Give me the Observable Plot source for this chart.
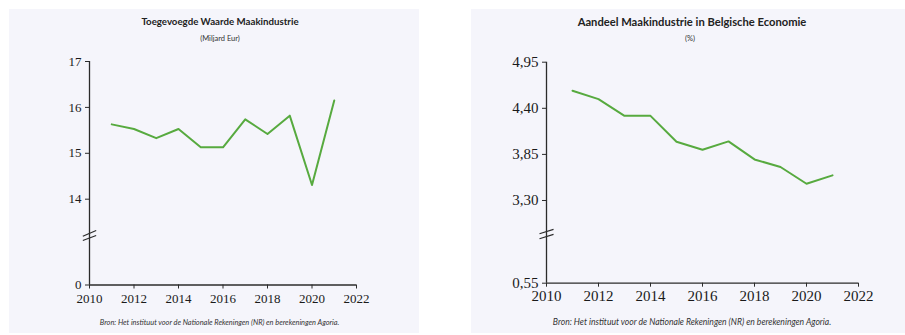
<!DOCTYPE html>
<html><head><meta charset="utf-8">
<script src="https://cdn.jsdelivr.net/npm/d3@7"></script>
<script src="https://cdn.jsdelivr.net/npm/@observablehq/plot@0.6"></script>
<style>
body{margin:0;background:#fff;width:905px;height:335px;position:relative;overflow:hidden;}
.panel{position:absolute;background:#f5f5fb;overflow:hidden;}
.panel svg{position:absolute;left:0;top:0;font-family:'Liberation Serif',serif;}
.panel svg text{font-family:'Liberation Serif',serif;}
.title{position:absolute;left:0;right:0;text-align:center;font-family:Lato,sans-serif;font-weight:bold;color:#222;white-space:nowrap;}
.sub{position:absolute;left:0;right:0;text-align:center;font-family:Lato,sans-serif;color:#333;white-space:nowrap;}
.cap{position:absolute;left:0;right:0;text-align:center;font-family:Lato,sans-serif;font-style:italic;color:#333;white-space:nowrap;}
</style>
</head><body>
<div class="panel" id="p1" style="left:9px;top:9px;width:410px;height:324px;">
  <div class="title" style="top:6px;font-size:9.7px;padding-left:12px;">Toegevoegde Waarde Maakindustrie</div>
  <div class="sub" style="top:25px;font-size:7.5px;padding-left:12px;">(Miljard Eur)</div>
  <div class="cap" style="top:309px;font-size:7.4px;padding-left:11px;">Bron: Het instituut voor de Nationale Rekeningen (NR) en berekeningen Agoria.</div>
</div>
<div class="panel" id="p2" style="left:471px;top:9px;width:434px;height:324px;">
  <div class="title" style="top:6px;font-size:11.2px;padding-left:8px;">Aandeel Maakindustrie in Belgische Economie</div>
  <div class="sub" style="top:25px;font-size:7.5px;padding-left:4px;">(%)</div>
  <div class="cap" style="top:308px;font-size:8.6px;padding-left:8px;">Bron: Het instituut voor de Nationale Rekeningen (NR) en berekeningen Agoria.</div>
</div>
<script>
const years = [2011, 2012, 2013, 2014, 2015, 2016, 2017, 2018, 2019, 2020, 2021];
const waarde = [15.63, 15.53, 15.33, 15.53, 15.13, 15.13, 15.74, 15.42, 15.82, 14.31, 16.15];
const aandeel = [4.61, 4.51, 4.31, 4.31, 4.00, 3.905, 4.005, 3.79, 3.70, 3.50, 3.60];
const xTicks = [2010, 2012, 2014, 2016, 2018, 2020, 2022];
const yTicksLeft = [0, 14, 15, 16, 17];
const yTicksRight = [0.55, 3.30, 3.85, 4.40, 4.95];
// broken-axis break-mark positions (data units)
const breakLeft = [[13.194, 13.318], [13.100, 13.209]];
const breakRight = [[2.903, 2.955], [2.844, 2.896]];

const green = "#57aa3f";
const axisColor = "#2b2b2b";
const serif = "'Liberation Serif', serif";

function chart({w, h, ml, mr, yDomain, yRange, yTicks, fmt, values, breaks, bx, fs, xpad}) {
  const data = years.map((y, i) => ({year: y, v: values[i]}));
  const breakData = breaks.map(b => ({x1: 2010 - bx, x2: 2010 + bx, y1: b[0], y2: b[1]}));
  return Plot.plot({
    width: w, height: h,
    marginLeft: ml, marginRight: mr, marginTop: yRange[2], marginBottom: h - yRange[0],
    style: {fontFamily: serif, fontSize: fs + "px", color: "#222", background: "transparent", overflow: "visible"},
    x: {domain: [2010, 2022]},
    y: {type: "linear", domain: yDomain, range: yRange},
    marks: [
      Plot.axisX(xTicks, {tickSize: 4, tickPadding: xpad, tickFormat: d => String(d), label: null, stroke: axisColor, strokeOpacity: 1, fontSize: fs, fontFamily: serif, fill: "#1a1a1a"}),
      Plot.axisY(yTicks, {tickSize: 4, tickPadding: 4, tickFormat: fmt, label: null, stroke: axisColor, strokeOpacity: 1, fontSize: fs, fontFamily: serif, fill: "#1a1a1a"}),
      Plot.ruleX([2010], {y1: yDomain[0], y2: yDomain[2], stroke: axisColor, strokeWidth: 1.3}),
      Plot.ruleY([yDomain[0]], {x1: 2010, x2: 2022, stroke: axisColor, strokeWidth: 1.3}),
      Plot.link(breakData, {x1: "x1", x2: "x2", y1: "y1", y2: "y2", stroke: axisColor, strokeWidth: 1.2}),
      Plot.line(data, {x: "year", y: "v", stroke: green, strokeWidth: 2, strokeLinejoin: "round"})
    ]
  });
}

const c1 = chart({
  w: 410, h: 324, ml: 80, mr: 63,
  yDomain: [0, 12.686, 17], yRange: [275.5, 250, 52],
  yTicks: yTicksLeft, fmt: d => String(d),
  values: waarde, breaks: breakLeft, bx: 0.3, fs: 13, xpad: 5
});
document.getElementById("p1").appendChild(c1);

const c2 = chart({
  w: 434, h: 324, ml: 75, mr: 47,
  yDomain: [0.55, 2.596, 4.95], yRange: [273.7, 250, 52.7],
  yTicks: yTicksRight, fmt: d => d.toFixed(2).replace(".", ","),
  values: aandeel, breaks: breakRight, bx: 0.27, fs: 15, xpad: 3
});
document.getElementById("p2").appendChild(c2);
</script>
</body></html>
